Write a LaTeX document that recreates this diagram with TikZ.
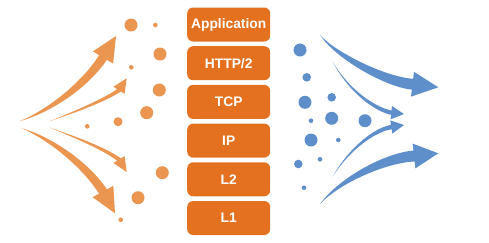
\documentclass[tikz,border=0pt]{standalone}
\usepackage{fontspec}
\setmainfont{Liberation Sans}
\usetikzlibrary{positioning, calc}
\definecolor{stackorange}{HTML}{E4711F}
\definecolor{fanorange}{HTML}{EA9550}
\definecolor{fanblue}{HTML}{5F8FCB}

% tapered curved arrow:
% [fill] {start}{control 1}{control 2}{head base}{tip}{shaft half width}{head half width}
\newcommand{\fanarrow}[8][]{%
  \coordinate (fa-o) at ($(#5)!#7!90:(#6)$);
  \coordinate (fa-i) at ($(#5)!#7!-90:(#6)$);
  \fill[#1] (#2) .. controls ($(#3)+0.5*(fa-o)-0.5*(#5)$) and ($(#4)+0.9*(fa-o)-0.9*(#5)$) .. (fa-o)
    -- ($(#5)!#8!90:(#6)$) -- (#6) -- ($(#5)!#8!-90:(#6)$) -- (fa-i)
    .. controls ($(#4)+0.9*(fa-i)-0.9*(#5)$) and ($(#3)+0.5*(fa-i)-0.5*(#5)$) .. (#2) -- cycle;
}

\begin{document}
\begin{tikzpicture}[x=1pt, y=-1pt,
  layer/.style={fill=stackorange, rounded corners=6pt, minimum width=83pt, minimum height=34pt,
    inner sep=0pt, text=white, font=\fontsize{13.8}{16}\selectfont\bfseries},
]
\useasboundingbox (0,0) rectangle (489,242);

% Protocol stack
\node[layer] (app) at (228.7,24.5) {Application};
\node[layer, below=4.3pt of app] (http) {HTTP/2};
\node[layer, below=4.3pt of http] (tcp) {TCP};
\node[layer, below=4.3pt of tcp] (ip) {IP};
\node[layer, below=4.3pt of ip] (ltwo) {L2};
\node[layer, below=4.3pt of ltwo] (lone) {L1};

% Scattered packets, left
\foreach \x/\y/\r in {131/25/6.5, 155.3/25/2.3, 160/54/6.5, 131.3/67.3/2.3, 159.3/90/6.5,
    146.7/112.7/6.5, 118/121.7/4.5, 87.3/126.3/2.3, 162.3/172.7/6.5, 138/197.7/6.5, 120.7/219.7/2.3}
  \fill[fanorange] (\x,\y) circle[radius=\r pt];

% Scattered packets, right
\foreach \x/\y/\r in {300/50/6.5, 306.7/77.3/4.3, 305/102.3/6.5, 331.7/97.3/4.3, 311/120.7/2.3,
    331.7/118.3/6.5, 365/120.7/6.5, 311/140/6.5, 338.3/140/2.3, 298.3/164/4.3, 320/159.3/2.3, 304/187.7/2.3}
  \fill[fanblue] (\x,\y) circle[radius=\r pt];

% Fan-out arrows
\fanarrow[fanorange]{20,121}{45,113}{83,88}{103,57.5}{116,36}{4.5pt}{11.8pt}
\fanarrow[fanorange]{50,121}{75,112}{105,100}{119,90.3}{126.7,78.3}{2.2pt}{6.6pt}
\fanarrow[fanorange]{50,127.7}{75,137}{105,149}{119,159.5}{126.7,172}{2.2pt}{6.6pt}
\fanarrow[fanorange]{21.7,128.3}{45,136}{83,161}{103,191.5}{115,213.3}{4.5pt}{11.8pt}

% Fan-in arrows
\fanarrow[fanblue]{320,35}{335,55}{385,82}{412.5,84.2}{438.3,87.3}{5.5pt}{12.5pt}
\fanarrow[fanblue]{332.7,61.7}{345,85}{370,108}{391.3,112.7}{404,114}{2.2pt}{6.7pt}
\fanarrow[fanblue]{332.7,176.7}{345,155}{370,131}{391.3,127}{404,125}{2.2pt}{6.7pt}
\fanarrow[fanblue]{320,204}{340,180}{385,158}{414,156}{438.3,153.3}{5.5pt}{12.5pt}

\end{tikzpicture}
\end{document}
